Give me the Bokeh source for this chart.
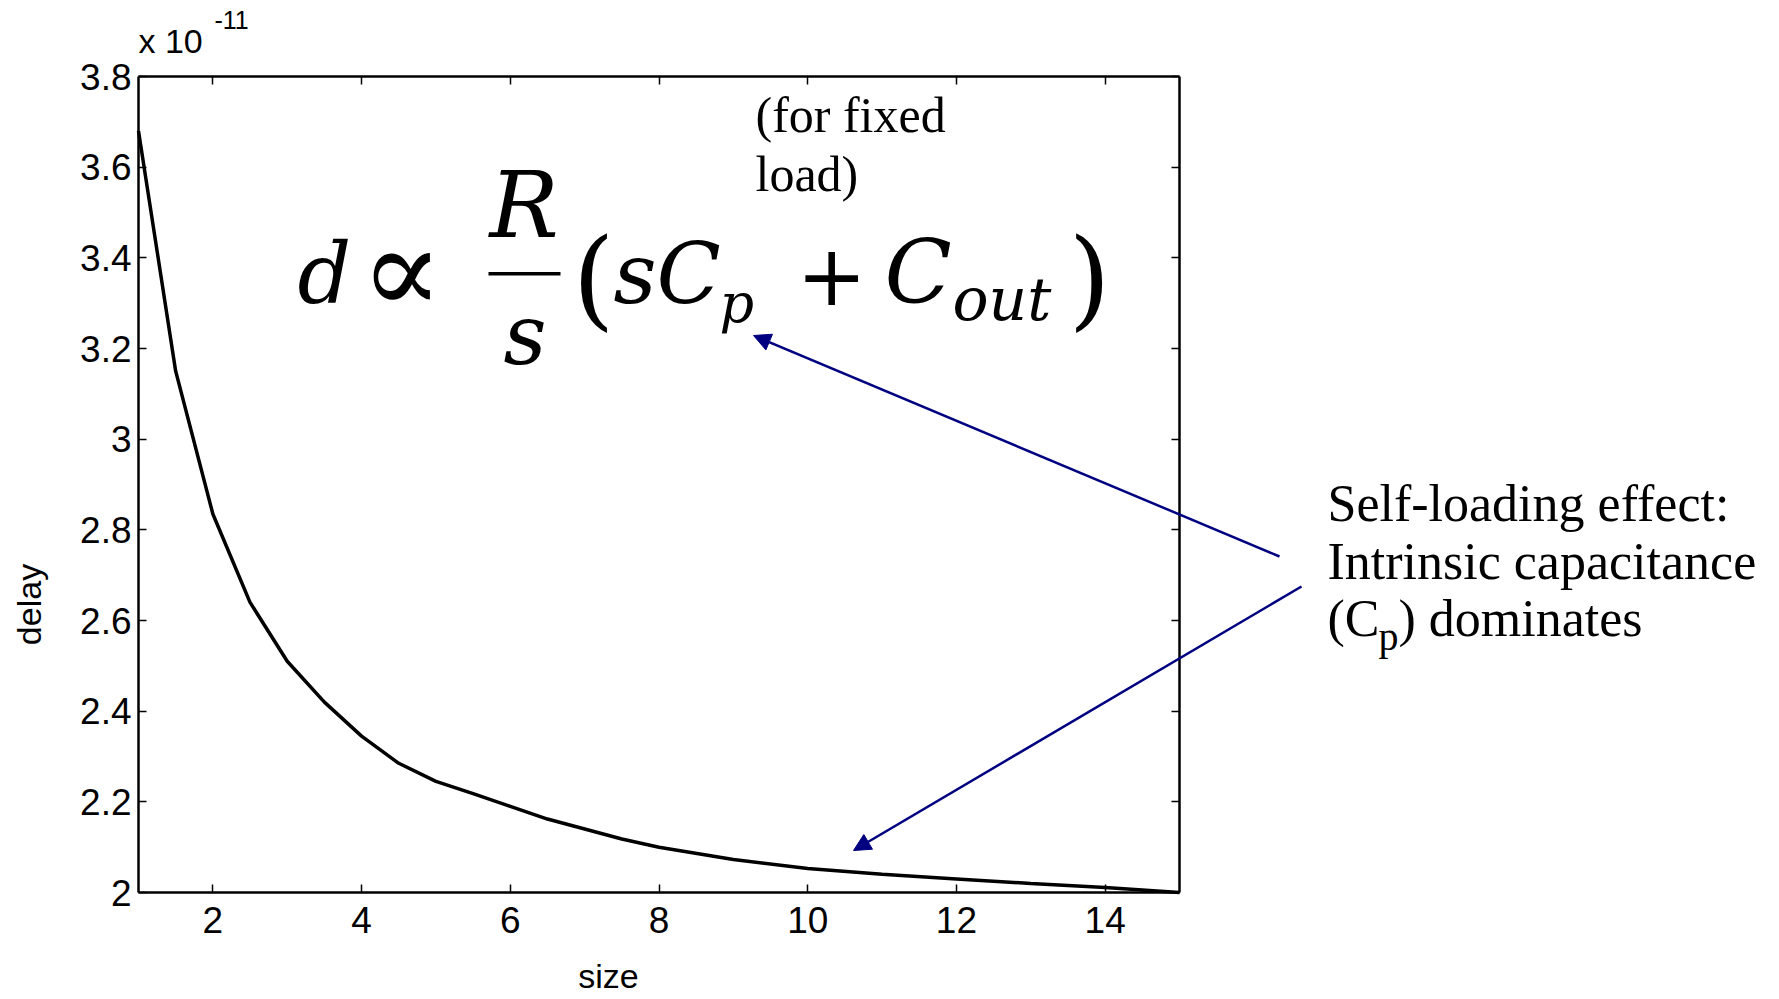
from math import pi
from bokeh.plotting import figure
from bokeh.models import (Range1d, LinearAxis, FixedTicker, Label, Arrow, NormalHead,
                          BoxAnnotation)
from bokeh.embed import file_html
from bokeh.resources import INLINE

# ---------------- data (delay in units of 1e-11 s) ----------------
size = [1, 1.5, 2, 2.5, 3, 3.5, 4, 4.5, 5, 5.5, 6, 6.5, 7, 7.5, 8, 9, 10, 11, 12, 13, 14, 15]
delay_e11 = [3.68, 3.15, 2.835, 2.64, 2.51, 2.42, 2.345, 2.285, 2.245, 2.218, 2.19, 2.162,
             2.14, 2.118, 2.10, 2.073, 2.053, 2.04, 2.03, 2.02, 2.011, 2.0]
x_ticks = [2, 4, 6, 8, 10, 12, 14]
x_tick_labels = ["2", "4", "6", "8", "10", "12", "14"]
y_ticks = [2.0, 2.2, 2.4, 2.6, 2.8, 3.0, 3.2, 3.4, 3.6, 3.8]
y_tick_labels = ["2", "2.2", "2.4", "2.6", "2.8", "3", "3.2", "3.4", "3.6", "3.8"]
X_MIN, X_MAX = 1, 15
Y_MIN, Y_MAX = 2.0, 3.8

# ---------------- layout ----------------
W, H = 1779, 999
FL, FR, FT, FB = 138, 1179, 76, 892   # box edges in page pixels
XS = (FR - FL) / (X_MAX - X_MIN)
YS = (FB - FT) / (Y_MAX - Y_MIN)


def dx(px):
    return X_MIN + (px - FL) / XS


def dy(py):
    return Y_MAX - (py - FT) / YS


# the frame covers the whole canvas; the axes are drawn at fixed data locations
p = figure(width=W, height=H, x_range=Range1d(dx(0), dx(W)), y_range=Range1d(dy(H), dy(0)),
           output_backend="svg", toolbar_location=None,
           min_border_left=0, min_border_right=0, min_border_top=0, min_border_bottom=0)
p.grid.visible = False
p.outline_line_color = None
p.background_fill_color = "white"
p.border_fill_color = "white"

TICK_FONT = "Liberation Sans"
for ax in p.xaxis:
    ax.ticker = FixedTicker(ticks=x_ticks)
    ax.major_label_overrides = dict(zip(x_ticks, x_tick_labels))
    ax.major_label_standoff = 14
    ax.bounds = (X_MIN, X_MAX)
    ax.fixed_location = Y_MIN
for ax in p.yaxis:
    ax.ticker = FixedTicker(ticks=y_ticks)
    ax.major_label_overrides = dict(zip(y_ticks, y_tick_labels))
    ax.major_label_standoff = 7
    ax.bounds = (Y_MIN, Y_MAX)
    ax.fixed_location = X_MIN
for ax in list(p.xaxis) + list(p.yaxis):
    ax.axis_line_width = 2.5
    ax.major_tick_in = 8
    ax.major_tick_out = 0
    ax.major_tick_line_width = 1.5
    ax.minor_tick_line_color = None
    ax.major_label_text_font = TICK_FONT
    ax.major_label_text_font_size = "37px"
    ax.major_label_text_color = "black"

top = LinearAxis(ticker=FixedTicker(ticks=x_ticks), major_label_overrides={t: "" for t in x_ticks},
                 major_tick_in=8, major_tick_out=0, major_tick_line_width=1.5,
                 minor_tick_line_color=None, axis_line_width=2.5,
                 major_label_text_font_size="1px", bounds=(X_MIN, X_MAX), fixed_location=Y_MAX)
right = LinearAxis(ticker=FixedTicker(ticks=y_ticks), major_label_overrides={t: "" for t in y_ticks},
                   major_tick_in=8, major_tick_out=0, major_tick_line_width=1.5,
                   minor_tick_line_color=None, axis_line_width=2.5,
                   major_label_text_font_size="1px", bounds=(Y_MIN, Y_MAX), fixed_location=X_MAX)
p.add_layout(top, "above")
p.add_layout(right, "right")

# ---------------- curve ----------------
p.line(size, delay_e11, line_color="black", line_width=3.5)

K = 0.36  # empirical shift of the alphabetic baseline, in em


def lab(text, px, py, font="Liberation Serif", fs=50, style="normal"):
    p.add_layout(Label(x=dx(px), y=dy(py - K * fs), text=text, text_font=font,
                       text_font_size=f"{fs}px", text_font_style=style, text_align="left",
                       text_baseline="alphabetic", text_color="black"))


def clab(text, px, py, fs=34, angle=0.0):
    p.add_layout(Label(x=dx(px), y=dy(py), text=text, text_font=TICK_FONT,
                       text_font_size=f"{fs}px", text_align="center", text_baseline="middle",
                       text_color="black", angle=angle))


# axis texts
lab("x 10", 138, 53, font=TICK_FONT, fs=34)
lab("-11", 214, 28, font=TICK_FONT, fs=25)
clab("delay", 28, 604, angle=pi / 2)
clab("size", 608, 975)

# ---------------- formula ----------------
MF = "DejaVu Serif"
lab("d", 297, 304, font=MF, fs=84, style="italic")
lab("\u221d", 360, 314, font=MF, fs=122)
lab("R", 489, 238, font=MF, fs=92, style="italic")
p.add_layout(BoxAnnotation(left=dx(488), right=dx(560), top=dy(271.5), bottom=dy(275),
                           fill_color="black", fill_alpha=1.0, line_color=None))
lab("s", 503, 365, font=MF, fs=84, style="italic")
lab("(", 572, 317, font=MF, fs=108)
lab("sC", 613, 304, font=MF, fs=84, style="italic")
lab("p", 719, 322, font=MF, fs=54, style="italic")
lab("+", 796, 304, font=MF, fs=84)
lab("C", 884, 304, font=MF, fs=88, style="italic")
lab("out", 952, 320, font=MF, fs=60, style="italic")
lab(")", 1068, 317, font=MF, fs=108)

# ---------------- annotations ----------------
lab("(for fixed", 755, 132)
lab("load)", 755, 191)
lab("Self-loading effect:", 1327, 522, fs=52)
lab("Intrinsic capacitance", 1327, 580, fs=52)
lab("(C", 1327, 637, fs=52)
lab("p", 1378, 650, fs=40)
lab(") dominates", 1398, 637, fs=52)

NAVY = "#000080"
for (x0, y0, x1, y1) in [(1279, 556, 753, 335), (1301, 586, 853, 850)]:
    p.add_layout(Arrow(end=NormalHead(size=17, fill_color=NAVY, line_color=NAVY),
                       x_start=dx(x0), y_start=dy(y0), x_end=dx(x1), y_end=dy(y1),
                       line_color=NAVY, line_width=2.5))

open("out.html", "w").write(file_html(p, INLINE))
